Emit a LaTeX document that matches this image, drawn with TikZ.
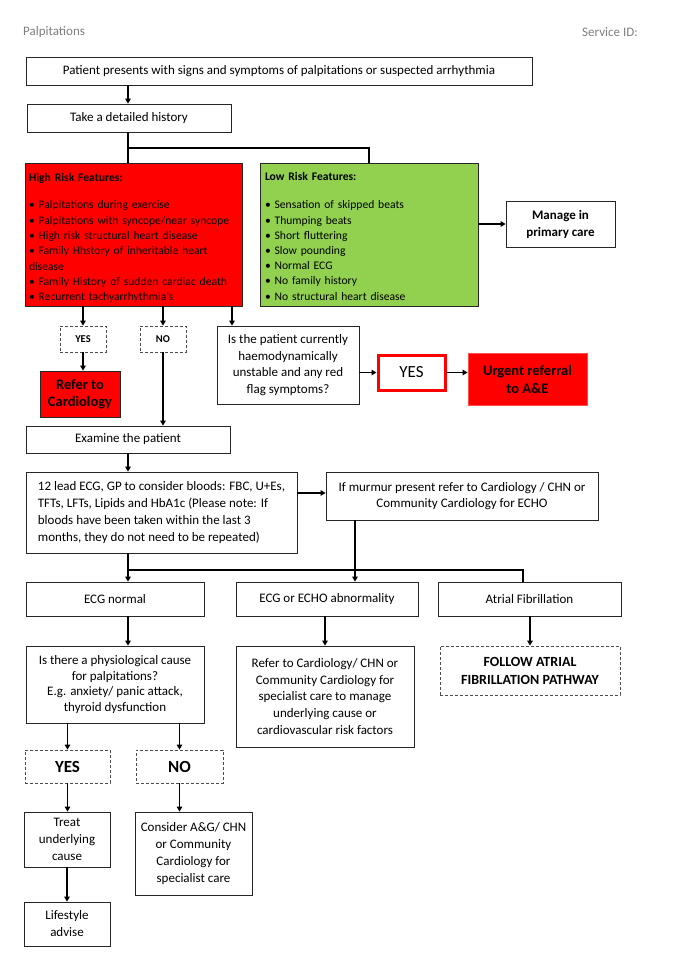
\documentclass[tikz,border=0pt]{standalone}
\usepackage{fontspec}
\setmainfont{Carlito}
\usetikzlibrary{arrows.meta,calc}
\definecolor{hired}{HTML}{FF0000}
\definecolor{logreen}{HTML}{92D050}
\definecolor{hdrgray}{HTML}{7F7F7F}
\newcommand\bx[7]{\node[#6, minimum width={(#4-#2)*1pt}, minimum height={(#5-#3)*1pt}] (#1) at ({(#2+#4)/2},{(#3+#5)/2}) {#7};}
\begin{document}
\begin{tikzpicture}[x=1pt,y=-1pt,
  box/.style={draw=black!85, line width=0.8pt, fill=white, inner sep=2pt, align=center, font=\fontsize{13}{16.8}\selectfont},
  dbox/.style={box, draw=black!70, dash pattern=on 3pt off 2pt},
  arr/.style={-{Triangle[length=5pt,width=5.5pt]}, line width=1.6pt},
  ln/.style={line width=1.6pt},
  hdr/.style={font=\fontsize{13}{15}\selectfont, text=hdrgray, inner sep=0pt}]
\useasboundingbox (0,0) rectangle (678,964);
\fill[white] (0,0) rectangle (678,964);

\node[hdr, anchor=west] (h1) at (23,32) {Palpitations};
\node[hdr, anchor=east] (h2) at (638,32) {Service ID:};

\bx{b1}{26}{57}{532}{85}{box}{Patient presents with signs and symptoms of palpitations or suspected arrhythmia}
\bx{b2}{27}{104}{231}{132}{box}{Take a detailed history}

\bx{red}{25}{163}{242}{306}{box, fill=hired, align=left, inner xsep=4pt, text width=209pt, font=\fontsize{11.6}{15.3}\selectfont}{\rule{0pt}{14.5pt}\textbf{High Risk Features:}\\[12.5pt]
\textbullet\ Palpitations during exercise\\
\textbullet\ Palpitations with syncope/near syncope\\
\textbullet\ High risk structural heart disease\\
\textbullet\ Family Hhstory of inheritable heart\\
disease\\
\textbullet\ Family History of sudden cardiac death\\
\textbullet\ Recurrent tachyarrhythmia's}

\bx{green}{260}{163}{478}{306}{box, fill=logreen, align=left, inner xsep=5pt, text width=208pt, font=\fontsize{11.6}{15.2}\selectfont}{\rule{0pt}{12pt}\textbf{Low Risk Features:}\\[13pt]
\textbullet\ Sensation of skipped beats\\
\textbullet\ Thumping beats\\
\textbullet\ Short fluttering\\
\textbullet\ Slow pounding\\
\textbullet\ Normal ECG\\
\textbullet\ No family history\\
\textbullet\ No structural heart disease}

\bx{manage}{506}{201}{615}{247}{box, font=\bfseries\fontsize{13}{17}\selectfont}{Manage in\\primary care}

\bx{yes1}{60}{326}{106}{352}{dbox, font=\bfseries\fontsize{10.5}{12}\selectfont}{YES}
\bx{no1}{140}{326}{186}{352}{dbox, font=\bfseries\fontsize{10.5}{12}\selectfont}{NO}
\bx{q}{217}{326}{359}{404}{box, font=\fontsize{13}{16.5}\selectfont}{Is the patient currently\\haemodynamically\\unstable and any red\\flag symptoms?}
\bx{yesr}{378}{355}{445}{390}{box, draw=hired, line width=3pt, font=\fontsize{17}{19}\selectfont}{YES}
\bx{urgent}{468}{353}{587}{405}{box, draw=red!70, fill=hired, font=\bfseries\fontsize{14.5}{18}\selectfont}{Urgent referral\\to A\&E}
\bx{refer}{40}{371}{120}{417}{box, fill=hired, font=\bfseries\fontsize{14.5}{17.5}\selectfont}{Refer to\\Cardiology}

\bx{exam}{26}{426}{230}{453}{box}{Examine the patient}
\bx{lead}{26}{472}{297}{553}{box, align=left, inner xsep=8pt, font=\fontsize{13}{17}\selectfont}{12 lead ECG, GP to consider bloods: FBC, U+Es,\\TFTs, LFTs, Lipids and HbA1c (Please note: If\\bloods have been taken within the last 3\\months, they do not need to be repeated)}
\bx{murmur}{326}{472}{598}{520}{box}{If murmur present refer to Cardiology / CHN or\\Community Cardiology for ECHO}

\bx{ecgn}{26}{582}{204}{616}{box}{ECG normal}
\bx{echo}{236}{582}{418}{616}{box}{ECG or ECHO abnormality}
\bx{af}{438}{582}{621}{616}{box}{Atrial Fibrillation}

\bx{phys}{26}{646}{204}{723}{box, font=\fontsize{13}{15.8}\selectfont}{Is there a physiological cause\\for palpitations?\\E.g. anxiety/ panic attack,\\thyroid dysfunction}
\bx{refer2}{236}{646}{414}{747}{box, font=\fontsize{13}{16.8}\selectfont}{Refer to Cardiology/ CHN or\\Community Cardiology for\\specialist care to manage\\underlying cause or\\cardiovascular risk factors}
\bx{afp}{440}{646}{620}{695}{dbox, font=\bfseries\fontsize{14}{18}\selectfont}{FOLLOW ATRIAL\\FIBRILLATION PATHWAY}

\bx{yes2}{25}{750}{110}{783}{dbox, font=\bfseries\fontsize{17}{19}\selectfont}{YES}
\bx{no2}{136}{750}{223}{783}{dbox, font=\bfseries\fontsize{17}{19}\selectfont}{NO}
\bx{treat}{24}{812}{110}{867}{box, font=\fontsize{13}{17}\selectfont}{Treat\\underlying\\cause}
\bx{consider}{135}{812}{252}{895}{box, font=\fontsize{13}{17}\selectfont}{Consider A\&G/ CHN\\or Community\\Cardiology for\\specialist care}
\bx{life}{24}{902}{110}{946}{box, font=\fontsize{13}{17}\selectfont}{Lifestyle\\advise}

% connectors
\coordinate (c128) at (128,148);
\coordinate (c232) at (232,0);
\coordinate (c355) at (355,0);
\coordinate (j1) at (128,570);
\coordinate (j2) at (523,570);

\draw[arr] (c128 |- b1.south) -- (c128 |- b2.north);
\draw[ln] (c128 |- b2.south) -- (c128 |- red.north);
\draw[ln] (c128) -| (green.north);
\draw[arr] (green.east |- manage.west) -- (manage.west);

\draw[arr] (yes1.north |- red.south) -- (yes1.north);
\draw[arr] (no1.north |- red.south) -- (no1.north);
\draw[arr] (c232 |- red.south) -- (c232 |- q.north);
\draw[arr] (q.east |- yesr.west) -- (yesr.west);
\draw[arr] (yesr.east) -- (urgent.west |- yesr.east);
\draw[arr] (yes1.south) -- (yes1.south |- refer.north);
\draw[arr] (no1.south) -- (no1.south |- exam.north);

\draw[arr] (c128 |- exam.south) -- (c128 |- lead.north);
\draw[arr] (lead.east |- 0,493) -- (murmur.west |- 0,493);
\draw[ln] (c128 |- lead.south) -- (j1);
\draw[ln] (j1) -- (j2) -- (j2 |- af.north);
\draw[arr] (j1) -- (c128 |- ecgn.north);
\draw[arr] (c355 |- murmur.south) -- (c355 |- echo.north);

\draw[arr] (c128 |- ecgn.south) -- (c128 |- phys.north);
\draw[arr] (refer2.north |- echo.south) -- (refer2.north);
\draw[arr] (afp.north |- af.south) -- (afp.north);

\draw[arr] (yes2.north |- phys.south) -- (yes2.north);
\draw[arr] (no2.north |- phys.south) -- (no2.north);
\draw[arr] (yes2.south) -- (yes2.south |- treat.north);
\draw[arr] (no2.south) -- (no2.south |- consider.north);
\draw[arr] (treat.south) -- (treat.south |- life.north);
\end{tikzpicture}
\end{document}
